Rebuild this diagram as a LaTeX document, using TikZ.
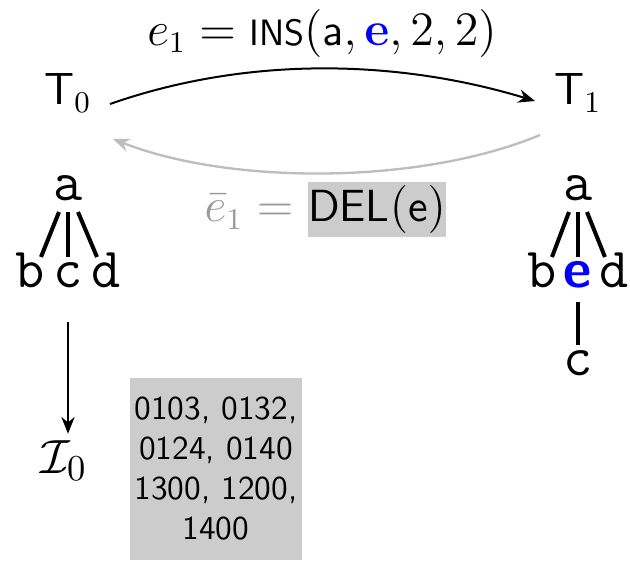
\documentclass[tikz,border=0pt]{standalone}
\usetikzlibrary{arrows.meta}
\definecolor{boxgray}{gray}{0.8}
\definecolor{arrgray}{gray}{0.74}
\definecolor{txtgray}{gray}{0.6}
\begin{document}
\begin{tikzpicture}[x=0.3pt,y=-0.3pt,
  lbl/.style={inner sep=0pt,font=\fontsize{13.5}{16}\selectfont},
  tt/.style={inner sep=0pt,anchor=base,font=\fontsize{17}{20}\selectfont\ttfamily},
  edge/.style={line width=1.2pt},
  tip/.style={-{Stealth[length=5pt,width=4pt]}},
  ]
\useasboundingbox (0,0) rectangle (630,564);
% top-level states
\node[lbl] (T0) at (68,93) {$\textsf{T}_0$};
\node[lbl] (T1) at (578,93) {$\textsf{T}_1$};
\coordinate (a1) at (110,104);
\coordinate (b1) at (535,101);
\draw[semithick,tip] (a1) .. controls (250,55) and (400,60) .. (b1);
\coordinate (a2) at (540,135);
\coordinate (b2) at (113,139);
\draw[arrgray,line width=0.7pt,tip] (a2) .. controls (420,185) and (230,185) .. (b2);
\node[lbl] (e1) at (322,33) {$e_1 = \textsf{\fontsize{11}{13}\selectfont INS}(\textsf{a}, {\color{blue}\mathbf{e}}, 2, 2)$};
\node[lbl,fill=boxgray,minimum width=133*0.3pt,minimum height=55*0.3pt] (del) at (377,210) {$\textsf{DEL}(\textsf{e})$};
\node[lbl,anchor=base east,text=txtgray] (e1bar) at ([xshift=-4pt]del.base west) {$\bar{e}_1 =$};
% left tree
\node[tt] (la) at (68,201) {a};
\node[tt] (lb) at (30,288) {b};
\node[tt] (lc) at (68,288) {c};
\node[tt] (ld) at (106,288) {d};
\draw[edge] (59,212) -- (41,257);
\draw[edge] (68,212) -- (68,257);
\draw[edge] (78,212) -- (97,257);
% right tree
\node[tt] (ra) at (578,201) {a};
\node[tt] (rb) at (542,288) {b};
\node[tt,font=\fontsize{16.5}{19}\selectfont\sffamily\bfseries,text=blue] (re) at (578,288) {e};
\node[tt] (rd) at (614,288) {d};
\node[tt] (rc) at (578,376) {c};
\draw[edge] (569,212) -- (552,257);
\draw[edge] (578,212) -- (578,257);
\draw[edge] (587,212) -- (605,257);
\draw[edge] (578,302) -- (578,345);
% index
\node[lbl,font=\fontsize{15}{18}\selectfont] (I0) at (64,461) {$\mathcal{I}_0$};
\coordinate (lt) at (68,322);
\draw[semithick,tip,shorten >=2pt] (lt) -- (I0.north -| lt);
\node[fill=boxgray,minimum width=172*0.3pt,minimum height=182*0.3pt,inner sep=0pt,align=center,
  font=\fontsize{10}{12}\selectfont\sffamily] (idx) at (216,469)
  {0103, 0132,\\0124, 0140\\1300, 1200,\\1400};
\end{tikzpicture}
\end{document}
